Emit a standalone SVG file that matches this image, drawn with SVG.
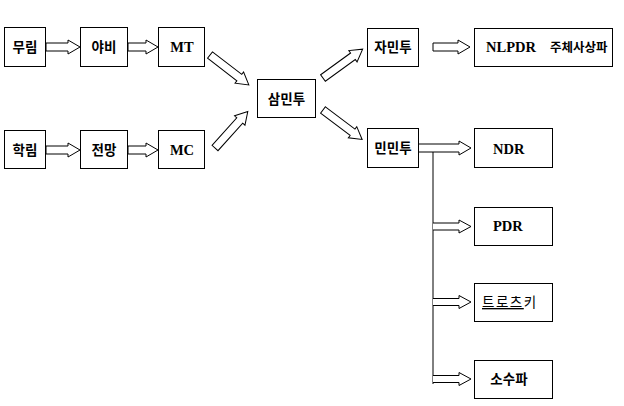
<svg xmlns="http://www.w3.org/2000/svg" width="624" height="406" viewBox="0 0 624 406">
<style>
.box{fill:#fff;stroke:#000;stroke-width:1}
.arr{fill:#fff;stroke:#000;stroke-width:1;stroke-linejoin:miter}
.ko{font-family:"Noto Sans CJK KR","Noto Sans",sans-serif;font-weight:bold;font-size:13.5px;fill:#000}
.la{font-family:"Liberation Serif",serif;font-weight:bold;font-size:14.5px;fill:#000}
</style>
<defs>
<path id="da" d="M0,-4 H37 V-7 L49,0 L37,7 V4 H0 Z"/>
</defs>
<rect width="624" height="406" fill="#fff"/>
<g id="connectors">
<path class="arr" d="M46,43 H68 V40 L80,47 L68,54 V51 H46 Z"/>
<path class="arr" d="M128,43 H146 V40 L158,47 L146,54 V51 H128 Z"/>
<path class="arr" d="M46,146 H68 V143 L80,150 L68,157 V154 H46 Z"/>
<path class="arr" d="M128,146 H146 V143 L158,150 L146,157 V154 H128 Z"/>
<use class="arr" href="#da" transform="translate(210,55) rotate(37.6)"/>
<use class="arr" href="#da" transform="translate(215,148) rotate(-48)"/>
<use class="arr" href="#da" transform="translate(323,78) rotate(-36)"/>
<use class="arr" href="#da" transform="translate(323,110) rotate(37)"/>
<path class="arr" d="M433,43 H458 V40 L470,47 L458,54 V51 H433 Z"/>
<path class="arr" d="M418,144 H459 V141 L471,148 L459,155 V152 H418 Z"/>
<line x1="433" y1="152" x2="433" y2="384" stroke="#000" stroke-width="1"/>
<path class="arr" d="M433,223 H459 V220 L471,226.5 L459,233 V230 H433"/>
<path class="arr" d="M433,298.5 H459 V295.5 L471,302 L459,308.5 V305.5 H433"/>
<path class="arr" d="M433,375.5 H459 V372.5 L471,379 L459,385.5 V382.5 H433"/>
</g>
<g id="n-murim"><rect class="box" x="4.5" y="27.5" width="41" height="39"/><text class="ko" x="25" y="52" text-anchor="middle">무림</text></g>
<g id="n-yabi"><rect class="box" x="80.5" y="27.5" width="47" height="39"/><text class="ko" x="104" y="52" text-anchor="middle">야비</text></g>
<g id="n-mt"><rect class="box" x="158.5" y="27.5" width="46" height="39"/><text class="la" x="182" y="52" text-anchor="middle">MT</text></g>
<g id="n-hakrim"><rect class="box" x="4.5" y="130.5" width="41" height="38"/><text class="ko" x="25" y="155" text-anchor="middle">학림</text></g>
<g id="n-jeonmang"><rect class="box" x="80.5" y="130.5" width="47" height="38"/><text class="ko" x="104" y="155" text-anchor="middle">전망</text></g>
<g id="n-mc"><rect class="box" x="158.5" y="130.5" width="46" height="38"/><text class="la" x="182" y="155" text-anchor="middle">MC</text></g>
<g id="n-sammintu"><rect class="box" x="257.5" y="79.5" width="58" height="38"/><text class="ko" x="286.5" y="104" text-anchor="middle">삼민투</text></g>
<g id="n-jamintu"><rect class="box" x="367.5" y="28.5" width="51" height="38"/><text class="ko" x="393" y="52" text-anchor="middle">자민투</text></g>
<g id="n-nlpdr"><rect class="box" x="474.5" y="28.5" width="138" height="38"/><text y="52"><tspan class="la" x="486">NLPDR</tspan><tspan class="ko" x="550" style="font-size:12.5px">주체사상파</tspan></text></g>
<g id="n-minmintu"><rect class="box" x="367.5" y="128.5" width="51" height="39"/><text class="ko" x="393" y="153" text-anchor="middle">민민투</text></g>
<g id="n-ndr"><rect class="box" x="474.5" y="128.5" width="78" height="39"/><text class="la" x="493" y="154">NDR</text></g>
<g id="n-pdr"><rect class="box" x="474.5" y="207.5" width="78" height="38"/><text class="la" x="493" y="231">PDR</text></g>
<g id="n-trotsky"><rect class="box" x="474.5" y="283.5" width="78" height="38"/><text x="482" y="307" style="font-family:'Noto Sans CJK KR',sans-serif;font-size:13.5px;fill:#000" letter-spacing="1.5"><tspan text-decoration="underline">트로츠</tspan>키</text></g>
<g id="n-sosupa"><rect class="box" x="474.5" y="360.5" width="78" height="38"/><text class="ko" x="509" y="384" text-anchor="middle">소수파</text></g>
</svg>
